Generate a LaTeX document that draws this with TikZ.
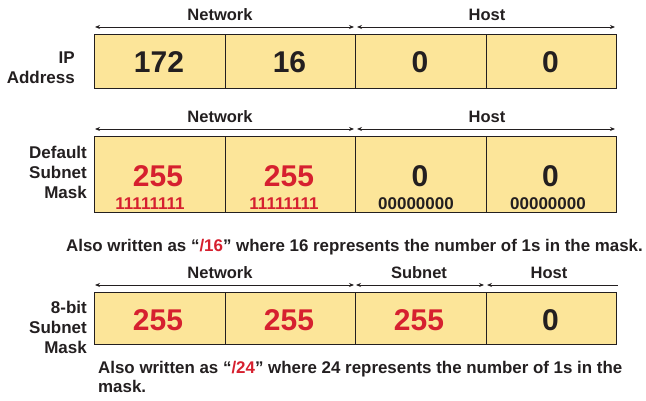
\documentclass[tikz,border=0pt]{standalone}
\usepackage{fontspec}
\setmainfont{Liberation Sans}
\usetikzlibrary{arrows.meta}
\definecolor{boxfill}{RGB}{252,229,153}
\definecolor{ink}{RGB}{35,31,32}
\definecolor{maskred}{RGB}{214,32,47}
\tikzset{
  cell/.style={draw=ink, fill=boxfill, line width=1.2pt, minimum width=130.5pt, inner sep=0pt, anchor=north west},
  big/.style={font=\fontsize{30}{30}\selectfont\bfseries, text=ink, inner sep=0pt},
  bigred/.style={big, text=maskred},
  small/.style={font=\fontsize{17}{17}\selectfont\bfseries, text=ink, inner sep=0pt},
  smallred/.style={small, text=maskred},
  head/.style={font=\fontsize{16.5}{16.5}\selectfont\bfseries, text=ink, inner sep=0pt},
  side/.style={font=\fontsize{17}{20}\selectfont\bfseries, text=ink, align=right, inner sep=0pt, anchor=east},
  span/.style={draw=ink, line width=0.9pt, {Stealth[length=5pt,width=4pt]}-{Stealth[length=5pt,width=4pt]}},
  spanl/.style={draw=ink, line width=0.9pt, {Stealth[length=5pt,width=4pt]}-},
  caption/.style={font=\fontsize{16.9}{19.5}\selectfont\bfseries, text=ink, inner sep=0pt}
}
\begin{document}
\begin{tikzpicture}[x=1pt,y=-1pt]
\useasboundingbox (0,0) rectangle (646,401);
% ---------- Row 1: IP address ----------
\node[head] (h1n) at (220,15) {Network};
\node[head] (h1h) at (487,15) {Host};
\coordinate (a1a) at (95,27); \coordinate (a1b) at (354,27);
\coordinate (a1c) at (357,27); \coordinate (a1d) at (615,27);
\draw[span] (a1a) -- (a1b);
\draw[span] (a1c) -- (a1d);
\node[side] (l1) at (75,68) {IP\\Address};
\node[cell, minimum height=54pt] (c11) at (94,34) {};
\node[cell, minimum height=54pt] (c12) at (224.5,34) {};
\node[cell, minimum height=54pt] (c13) at (355,34) {};
\node[cell, minimum height=54pt] (c14) at (485.5,34) {};
\node[big] (v11) at (159,62) {172};
\node[big] (v12) at (289.5,62) {16};
\node[big] (v13) at (420,62) {0};
\node[big] (v14) at (550.5,62) {0};
% ---------- Row 2: default subnet mask ----------
\node[head] (h2n) at (220,117) {Network};
\node[head] (h2h) at (487,117) {Host};
\coordinate (a2a) at (95,129); \coordinate (a2b) at (354,129);
\coordinate (a2c) at (357,129); \coordinate (a2d) at (615,129);
\draw[span] (a2a) -- (a2b);
\draw[span] (a2c) -- (a2d);
\node[side] (l2) at (87,172) {Default\\Subnet\\Mask};
\node[cell, minimum height=76pt] (c21) at (94,136) {};
\node[cell, minimum height=76pt] (c22) at (224.5,136) {};
\node[cell, minimum height=76pt] (c23) at (355,136) {};
\node[cell, minimum height=76pt] (c24) at (485.5,136) {};
\node[bigred] (v21) at (158,176) {255};
\node[bigred] (v22) at (289,176) {255};
\node[big] (v23) at (420,176) {0};
\node[big] (v24) at (550.5,176) {0};
\node[smallred] (b21) at (150,204) {11111111};
\node[smallred] (b22) at (284,204) {11111111};
\node[small] (b23) at (416,204) {00000000};
\node[small] (b24) at (548,204) {00000000};
% ---------- caption 1 ----------
\node[caption] (cap1) at (354.5,247) {Also written as “\textcolor{maskred}{/16}” where 16 represents the number of 1s in the mask.};
% ---------- Row 3: 8-bit subnet mask ----------
\node[head] (h3n) at (220,273) {Network};
\node[head] (h3s) at (419,273) {Subnet};
\node[head] (h3h) at (549,273) {Host};
\coordinate (a3a) at (95,285); \coordinate (a3b) at (354,285);
\coordinate (a3c) at (356,285); \coordinate (a3d) at (484,285);
\coordinate (a3e) at (487,285); \coordinate (a3f) at (618,285);
\draw[span] (a3a) -- (a3b);
\draw[span] (a3c) -- (a3d);
\draw[spanl] (a3e) -- (a3f);
\node[side] (l3) at (87,327) {8-bit\\Subnet\\Mask};
\node[cell, minimum height=52pt] (c31) at (94,292) {};
\node[cell, minimum height=52pt] (c32) at (224.5,292) {};
\node[cell, minimum height=52pt] (c33) at (355,292) {};
\node[cell, minimum height=52pt] (c34) at (485.5,292) {};
\node[bigred] (v31) at (158,320) {255};
\node[bigred] (v32) at (289,320) {255};
\node[bigred] (v33) at (419,320) {255};
\node[big] (v34) at (550.5,320) {0};
% ---------- caption 2 ----------
\node[caption, anchor=north west, align=left] (cap2) at (98,361) {Also written as “\textcolor{maskred}{/24}” where 24 represents the number of 1s in the\\mask.};
\end{tikzpicture}
\end{document}
